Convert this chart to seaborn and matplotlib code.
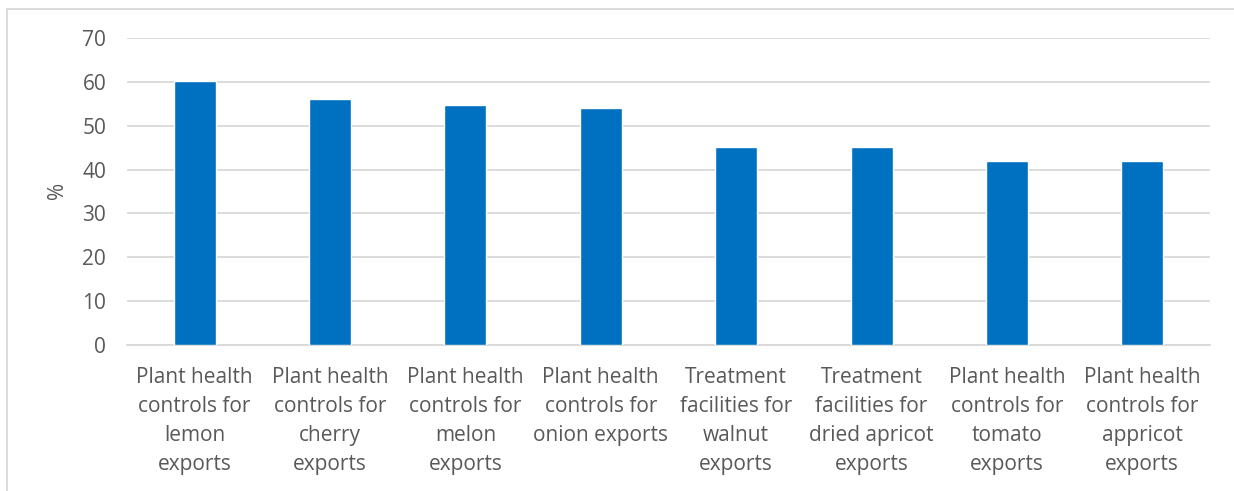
import matplotlib
matplotlib.use("Agg")
import matplotlib.pyplot as plt
from matplotlib.patches import Rectangle
import seaborn as sns
import pandas as pd

categories = [
    "Plant health\ncontrols for\nlemon\nexports",
    "Plant health\ncontrols for\ncherry\nexports",
    "Plant health\ncontrols for\nmelon\nexports",
    "Plant health\ncontrols for\nonion exports",
    "Treatment\nfacilities for\nwalnut\nexports",
    "Treatment\nfacilities for\ndried apricot\nexports",
    "Plant health\ncontrols for\ntomato\nexports",
    "Plant health\ncontrols for\nappricot\nexports",
]
values = [60.2, 56.2, 54.7, 54.0, 45.2, 45.2, 41.9, 41.9]
yticks = [0, 10, 20, 30, 40, 50, 60, 70]

sns.set_theme(style="white")
plt.rcParams["font.family"] = ["Open Sans", "DejaVu Sans"]

W, H = 1234, 491
fig = plt.figure(figsize=(W / 100, H / 100), dpi=100)
ax = fig.add_axes([127 / W, 1 - 345 / H, (1210 - 127) / W, (345 - 38) / H])

df = pd.DataFrame({"category": categories, "value": values})
sns.barplot(data=df, x="category", y="value", color="#0070C0", saturation=1,
            width=0.31, ax=ax, zorder=3)

text_color = "#595959"
fs = 15
ax.set_ylim(0, 70)
ax.set_xlim(-0.5, len(categories) - 0.5)
ax.set_yticks(yticks)
ax.set_yticklabels([str(t) for t in yticks], fontsize=fs, color=text_color)
ax.tick_params(axis="x", labelsize=fs, labelcolor=text_color, length=0, pad=16)
ax.tick_params(axis="y", length=0, pad=15)
for lbl in ax.get_xticklabels():
    lbl.set_linespacing(1.5)
ax.yaxis.grid(True, color="#D9D9D9", linewidth=1.3, zorder=0)
ax.xaxis.grid(False)
ax.set_axisbelow(True)
for s in ["top", "right", "left"]:
    ax.spines[s].set_visible(False)
ax.spines["bottom"].set_color("#D9D9D9")
ax.spines["bottom"].set_linewidth(1.3)
ax.set_xlabel("")
ax.set_ylabel("%", fontsize=fs, color=text_color)
ax.yaxis.set_label_coords((68 - 127) / (1210 - 127), (345 - 190) / (345 - 38))

# light frame around the chart
fig.patches.append(Rectangle((7 / W, -0.2), 1.2, 1.2 - 9 / H,
                             transform=fig.transFigure, fill=False,
                             edgecolor="#D9D9D9", linewidth=1.3))

fig.savefig("out.png", dpi=100, facecolor="white")
